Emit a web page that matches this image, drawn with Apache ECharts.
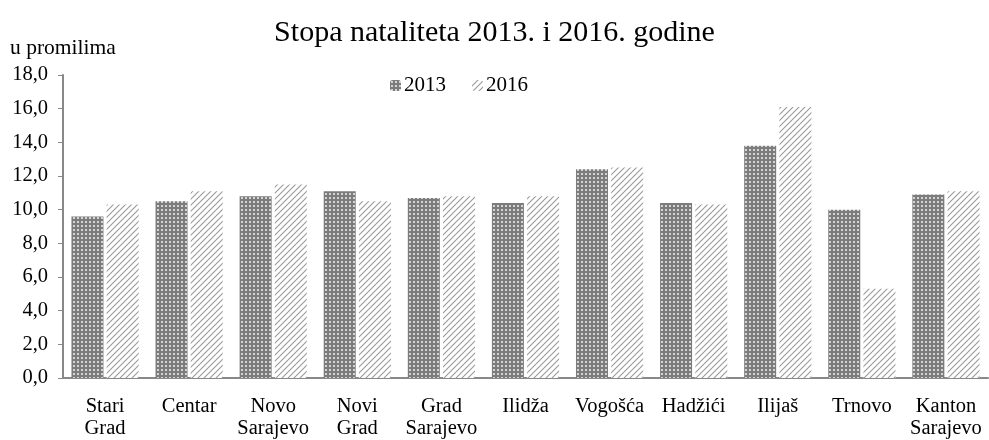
<!DOCTYPE html>
<html><head><meta charset="utf-8">
<script src="https://cdn.jsdelivr.net/npm/echarts@6/dist/echarts.min.js"></script>
<style>html,body{margin:0;padding:0;background:#fff}#c{width:989px;height:440px}</style>
</head><body><div id="c"></div>
<script>
const categories = ['Stari\nGrad','Centar','Novo\nSarajevo','Novi\nGrad','Grad\nSarajevo','Ilidža','Vogošća','Hadžići','Ilijaš','Trnovo','Kanton\nSarajevo'];
const values2013 = [9.6,10.5,10.8,11.1,10.7,10.4,12.4,10.4,13.8,10.0,10.9];
const values2016 = [10.3,11.1,11.5,10.5,10.8,10.8,12.5,10.3,16.1,5.3,11.1];
const seriesNames = ['2013','2016'];

function dotPattern(){
  const c=document.createElement('canvas');c.width=4;c.height=4;
  const g=c.getContext('2d');
  g.fillStyle='#7c7c7c';g.fillRect(0,0,4,4);
  g.fillStyle='#d4d4d4';g.fillRect(1,1,2,2);
  return c;
}
function hatchPattern(){
  const c=document.createElement('canvas');c.width=6;c.height=6;
  const g=c.getContext('2d');
  g.fillStyle='#ffffff';g.fillRect(0,0,6,6);
  g.strokeStyle='#9a9a9a';g.lineWidth=1.1;
  g.beginPath();
  g.moveTo(-1,7);g.lineTo(7,-1);
  g.moveTo(-7,7);g.lineTo(1,-1);
  g.moveTo(5,7);g.lineTo(13,-1);
  g.stroke();
  return c;
}
const p1={image:dotPattern(),repeat:'repeat'};
const p2={image:hatchPattern(),repeat:'repeat'};
const font='"Liberation Serif","Times New Roman",serif';
const chart=echarts.init(document.getElementById('c'),null,{renderer:'canvas'});
chart.setOption({
  animation:false,
  textStyle:{fontFamily:font,color:'#000'},
  title:{text:'Stopa nataliteta 2013. i 2016. godine',left:'center',top:13,
    textStyle:{fontFamily:font,fontSize:30,fontWeight:'normal',color:'#000'}},
  legend:{top:70,left:385,itemWidth:11,itemHeight:11,itemGap:26,
    textStyle:{fontFamily:font,fontSize:21,color:'#000',padding:[0,0,0,-2]},
    data:seriesNames},
  grid:{left:63,right:1,top:75,bottom:57,containLabel:false},
  xAxis:{type:'category',data:categories,
    axisLine:{lineStyle:{color:'#888',width:2}},axisTick:{show:false},
    axisLabel:{fontFamily:font,fontSize:20.5,color:'#000',margin:18,lineHeight:22,interval:0}},
  yAxis:{type:'value',min:0,max:18,interval:2,name:'u promilima',
    nameLocation:'end',nameGap:16,
    nameTextStyle:{fontFamily:font,fontSize:21.5,color:'#000',align:'left',padding:[0,0,0,-53]},
    axisLine:{show:true,lineStyle:{color:'#888',width:2}},
    axisTick:{show:true,length:5,lineStyle:{color:'#888'}},
    splitLine:{show:false},
    axisLabel:{fontFamily:font,fontSize:20.5,color:'#000',margin:15,
      formatter:v=>v.toFixed(1).replace('.',',')}},
  series:[
    {name:seriesNames[0],type:'bar',data:values2013,barWidth:32,barGap:'10%',itemStyle:{color:p1}},
    {name:seriesNames[1],type:'bar',data:values2016,barWidth:32,itemStyle:{color:p2}}
  ]
});
</script></body></html>
